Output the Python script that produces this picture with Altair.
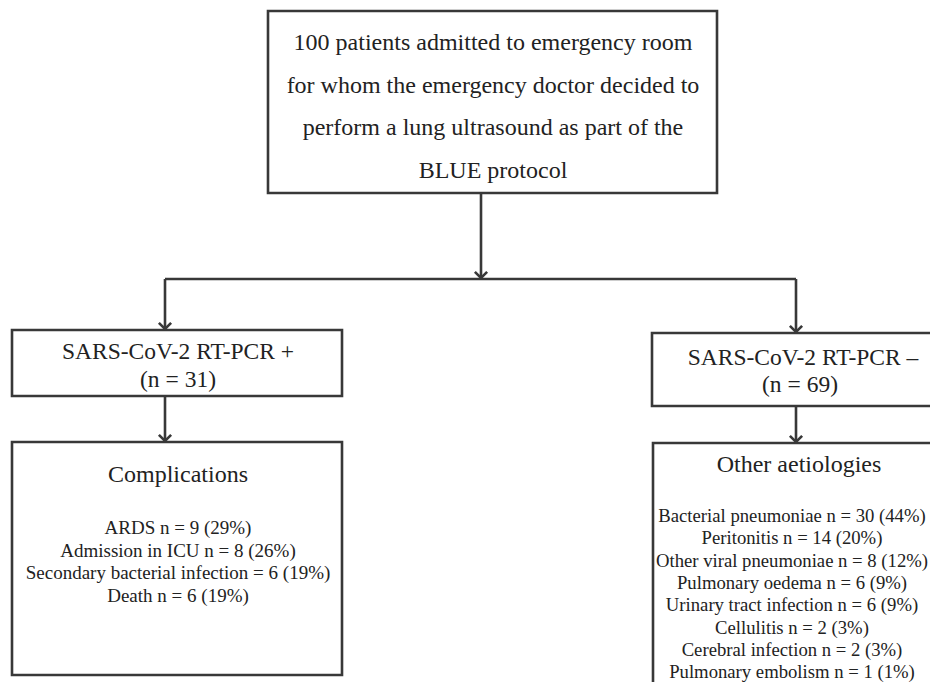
import altair as alt
import pandas as pd

# ---------------- content ----------------
top_lines = [
    "100 patients admitted to emergency room",
    "for whom the emergency doctor decided to",
    "perform a lung ultrasound as part of the",
    "BLUE protocol",
]
pos_label = "SARS-CoV-2 RT-PCR +"
pos_n = 31
neg_label = "SARS-CoV-2 RT-PCR \u2013"
neg_n = 69

comp_title = "Complications"
comp_names = ["ARDS n", "Admission in ICU n", "Secondary bacterial infection", "Death n"]
comp_n = [9, 8, 6, 6]
comp_pct = [29, 26, 19, 19]

aet_title = "Other aetiologies"
aet_names = ["Bacterial pneumoniae", "Peritonitis", "Other viral pneumoniae",
             "Pulmonary oedema", "Urinary tract infection", "Cellulitis",
             "Cerebral infection", "Pulmonary embolism"]
aet_n = [30, 14, 8, 6, 6, 2, 2, 1]
aet_pct = [44, 20, 12, 9, 9, 3, 3, 1]

# ---------------- layout (page pixel coordinates) ----------------
boxes = pd.DataFrame({
    "x": [268, 12, 652, 12, 653],
    "x2": [717, 342, 960, 342, 960],
    "y": [11, 330, 333, 442, 443],
    "y2": [193, 396, 406, 675, 720],
})

segments = pd.DataFrame({
    "x": [481, 165, 165, 796, 165, 796],
    "x2": [481, 796, 165, 796, 165, 796],
    "y": [193, 279, 279, 279, 396, 406],
    "y2": [279, 279, 330, 333, 442, 443],
})

arrows = pd.DataFrame({
    "x": [481, 165, 796, 165, 796],
    "y": [278, 329, 332, 441, 442],
})

texts = []
for t, yy in zip(top_lines, [43, 86, 128, 171]):
    texts.append({"x": 493, "y": yy, "t": t, "fs": 24})
texts.append({"x": 178, "y": 352, "t": pos_label, "fs": 23.5})
texts.append({"x": 178, "y": 380, "t": f"(n = {pos_n})", "fs": 23.5})
texts.append({"x": 803, "y": 358, "t": neg_label, "fs": 23.5})
texts.append({"x": 800, "y": 385, "t": f"(n = {neg_n})", "fs": 23.5})
texts.append({"x": 178, "y": 475, "t": comp_title, "fs": 24})
for i, (nm, n, p) in enumerate(zip(comp_names, comp_n, comp_pct)):
    texts.append({"x": 178, "y": 528 + i * 22.5, "t": f"{nm} = {n} ({p}%)", "fs": 19})
texts.append({"x": 799, "y": 465, "t": aet_title, "fs": 24})
for i, (nm, n, p) in enumerate(zip(aet_names, aet_n, aet_pct)):
    texts.append({"x": 792, "y": 516 + i * 22.3, "t": f"{nm} n = {n} ({p}%)", "fs": 18.7})
texts = pd.DataFrame(texts)

W, H = 922, 674
xs = alt.Scale(domain=[8, 930], nice=False, zero=False)
ys = alt.Scale(domain=[8, 682], nice=False, zero=False, reverse=True)
LINE = "#383838"
FONT = "Liberation Serif"

rects = alt.Chart(boxes).mark_rect(
    fill="white", stroke=LINE, strokeWidth=2.6, clip=True
).encode(
    x=alt.X("x:Q", scale=xs, axis=None),
    x2="x2:Q",
    y=alt.Y("y:Q", scale=ys, axis=None),
    y2="y2:Q",
)

rules = alt.Chart(segments).mark_rule(color=LINE, strokeWidth=2.6).encode(
    x=alt.X("x:Q", scale=xs, axis=None),
    x2="x2:Q",
    y=alt.Y("y:Q", scale=ys, axis=None),
    y2="y2:Q",
)

heads = alt.Chart(arrows).mark_point(
    shape="M-1,-1L0,0L1,-1", filled=False, stroke=LINE, strokeWidth=2.6, size=150, opacity=1
).encode(
    x=alt.X("x:Q", scale=xs, axis=None),
    y=alt.Y("y:Q", scale=ys, axis=None),
)

labels = alt.Chart(texts).mark_text(
    font=FONT, color="#222222", align="center", baseline="middle"
).encode(
    x=alt.X("x:Q", scale=xs, axis=None),
    y=alt.Y("y:Q", scale=ys, axis=None),
    text="t:N",
    size=alt.Size("fs:Q", scale=None, legend=None),
)

chart = alt.layer(rects, rules, heads, labels).properties(
    width=W, height=H, padding=0, autosize=alt.AutoSizeParams(type="none")
).configure(font=FONT).configure_view(stroke=None)

chart.save("out.html", embed_options={"renderer": "svg", "actions": False})
